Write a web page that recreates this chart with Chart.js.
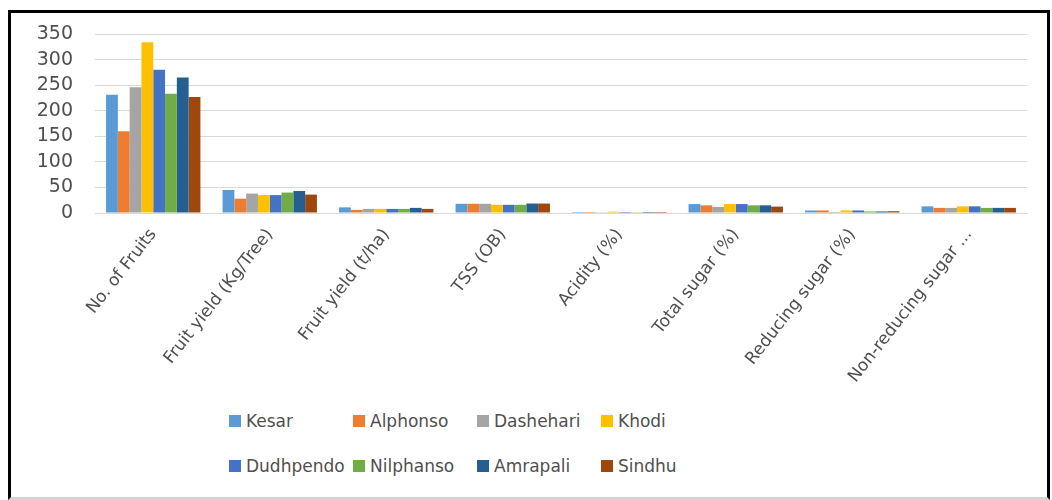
<!DOCTYPE html>
<html>
<head>
<meta charset="utf-8">
<script src="https://cdn.jsdelivr.net/npm/chart.js@4/dist/chart.umd.min.js"></script>
<style>
  html, body { margin: 0; padding: 0; background: #ffffff; }
  body { width: 1052px; height: 500px; position: relative; overflow: hidden; font-family: "DejaVu Sans", sans-serif; }
  #frame { position: absolute; left: 8px; top: 10px; width: 1036px; height: 484px;
           border: 3px solid #000; border-bottom: 3px solid #d4d4d4; box-sizing: content-box; }
  #wrap { position: absolute; left: 12px; top: 14px; width: 1030px; height: 380px; }
  #legend { position: absolute; left: 229px; top: 408px; display: grid;
            grid-template-columns: repeat(4, 124px); row-gap: 19px; }
  .item { display: flex; align-items: center; font-size: 17px; color: #4f4f4f; height: 26px; white-space: nowrap; }
  .box { width: 12px; height: 12px; margin-right: 5px; flex: none; }
</style>
</head>
<body>
<div id="frame"></div>
<div id="wrap"><canvas id="c"></canvas></div>
<div id="legend"></div>
<script>
// Parameters measured for each mango variety
const categories = ["No. of Fruits", "Fruit yield (Kg/Tree)", "Fruit yield (t/ha)", "TSS (OB)",
                    "Acidity (%)", "Total sugar (%)", "Reducing sugar (%)", "Non-reducing sugar ..."];

const varieties = ["Kesar", "Alphonso", "Dashehari", "Khodi", "Dudhpendo", "Nilphanso", "Amrapali", "Sindhu"];

const kesar     = [231, 45, 11, 18, 2, 17.5, 5, 13];
const alphonso  = [160, 28,  6, 18, 2, 15,   5, 10];
const dashehari = [246, 38,  8, 18, 1.5, 12, 2, 10];
const khodi     = [334, 35,  8, 16, 2.5, 17.5, 5, 13];
const dudhpendo = [280, 35,  8, 16, 2, 17.5, 5, 13];
const nilphanso = [233, 40,  8, 16, 1.5, 15, 3, 10];
const amrapali  = [265, 43, 10, 18.5, 2, 15, 3, 10];
const sindhu    = [227, 36,  8, 18.5, 2, 12.5, 3.5, 10];

const yTicks = [0, 50, 100, 150, 200, 250, 300, 350];

const colors = ["#5B9BD5", "#ED7D31", "#A5A5A5", "#FFC000", "#4472C4", "#70AD47", "#255E91", "#9E480E"];
const seriesValues = [kesar, alphonso, dashehari, khodi, dudhpendo, nilphanso, amrapali, sindhu];

const datasets = varieties.map((name, i) => ({
  label: name,
  data: seriesValues[i],
  backgroundColor: colors[i],
  borderWidth: 0,
  barPercentage: 1.0,
  categoryPercentage: 0.81
}));

const chart = new Chart(document.getElementById("c"), {
  type: "bar",
  data: { labels: categories, datasets },
  options: {
    responsive: true,
    maintainAspectRatio: false,
    animation: false,
    layout: { padding: { top: 20, right: 15, left: 0, bottom: 0 } },
    plugins: { legend: { display: false }, tooltip: { enabled: false } },
    scales: {
      y: {
        min: yTicks[0],
        max: yTicks[yTicks.length - 1],
        afterBuildTicks: (s) => { s.ticks = yTicks.map(v => ({ value: v })); },
        afterFit: (s) => { s.width = 83; s.paddingTop = 0; s.paddingBottom = 0; },
        ticks: { color: "#4f4f4f", font: { family: "DejaVu Sans", size: 19 }, padding: 22, autoSkip: false },
        grid: { color: "#d9d9d9", lineWidth: 1, drawTicks: false },
        border: { display: false }
      },
      x: {
        afterFit: (s) => { s.height = 181; s.paddingLeft = 0; s.paddingRight = 0; },
        ticks: { color: "#4f4f4f", font: { family: "DejaVu Sans", size: 17 },
                 maxRotation: 52, minRotation: 52, padding: 4, autoSkip: false },
        grid: { display: false },
        border: { color: "#d9d9d9" }
      }
    }
  }
});

// Legend laid out as a 4-column grid from the chart's datasets
const legend = document.getElementById("legend");
chart.data.datasets.forEach(ds => {
  const item = document.createElement("div");
  item.className = "item";
  const box = document.createElement("span");
  box.className = "box";
  box.style.background = ds.backgroundColor;
  item.appendChild(box);
  item.appendChild(document.createTextNode(ds.label));
  legend.appendChild(item);
});
</script>
</body>
</html>
